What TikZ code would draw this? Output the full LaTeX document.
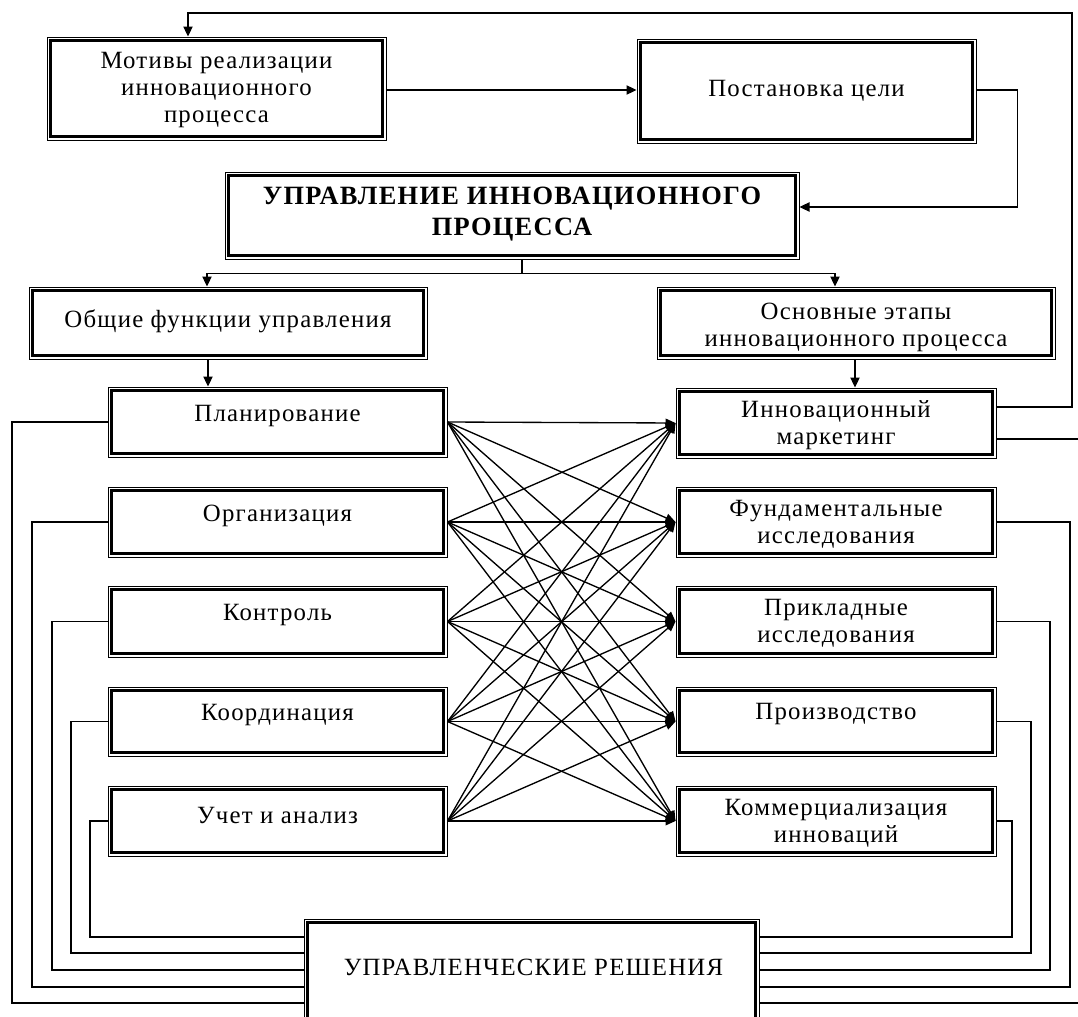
\documentclass[tikz,border=0pt]{standalone}
\usepackage{fontspec}
\setmainfont{Liberation Serif}[LetterSpace=5]
\usetikzlibrary{arrows.meta,fit}
\begin{document}
\begin{tikzpicture}[x=0.75pt,y=-0.75pt,
  box/.style={draw, line width=0.75pt, inner sep=0pt},
  txt/.style={font=\fontsize{18.6}{20.25}\selectfont, align=center, inner sep=0pt},
  ttl/.style={font=\fontsize{19.8}{23.25}\selectfont\bfseries, align=center, inner sep=0pt},
  arr/.style={line width=0.8pt, -{Triangle[length=7.5pt,width=7pt]}},
  carr/.style={line width=1pt, -{Triangle[length=7.5pt,width=6.5pt]}},
  ln/.style={line width=0.8pt}]
\useasboundingbox (0,0) rectangle (1078,1017);
\fill[white] (0,0) rectangle (1078,1017);

% boxes
\node[box, fit={(47,37)(386,140)}] (mot) {};
\node[box, fit={(637,39)(976,143)}] (post) {};
\node[box, fit={(225,172)(799,259)}] (upr) {};
\node[box, fit={(29,287)(427,359)}] (obsh) {};
\node[box, fit={(657,287)(1055,359)}] (osn) {};
\node[box, fit={(108,387)(447,457)}] (plan) {};
\node[box, fit={(108,487)(447,557)}] (org) {};
\node[box, fit={(108,586)(447,657)}] (kontr) {};
\node[box, fit={(108,687)(447,756)}] (koord) {};
\node[box, fit={(108,786)(447,856)}] (uchet) {};
\node[box, fit={(676,388)(996,458)}] (mark) {};
\node[box, fit={(676,487)(996,557)}] (fund) {};
\node[box, fit={(676,586)(996,657)}] (prikl) {};
\node[box, fit={(676,687)(996,756)}] (proizv) {};
\node[box, fit={(676,786)(996,856)}] (komm) {};
\node[box, fit={(304,919)(759,1040)}] (resh) {};

\foreach \n in {mot,post,upr,obsh,osn,plan,org,kontr,koord,uchet,mark,fund,prikl,proizv,komm,resh}
  \draw[line width=1.9pt] ([shift={(4,4)}]\n.north west) rectangle ([shift={(-4,-4)}]\n.south east);

% texts
\node[txt] (motT) at ([shift={(0,2)}]mot.center) {Мотивы реализации\\инновационного\\процесса};
\node[txt] (postT) at (post.center) {Постановка цели};
\node[ttl] (uprT) at ([shift={(0,-1)}]upr.center) {УПРАВЛЕНИЕ ИННОВАЦИОННОГО\\ПРОЦЕССА};
\node[txt] (obshT) at ([shift={(0,-2)}]obsh.center) {Общие функции управления};
\node[txt] (osnT) at ([shift={(0,4)}]osn.center) {Основные этапы\\инновационного процесса};
\node[txt] (planT) at ([shift={(0,-6)}]plan.center) {Планирование};
\node[txt] (orgT) at ([shift={(0,-6)}]org.center) {Организация};
\node[txt] (kontrT) at ([shift={(0,-6)}]kontr.center) {Контроль};
\node[txt] (koordT) at ([shift={(0,-6)}]koord.center) {Координация};
\node[txt] (uchetT) at ([shift={(0,-6)}]uchet.center) {Учет и анализ};
\node[txt] (markT) at ([shift={(0,2)}]mark.center) {Инновационный\\маркетинг};
\node[txt] (fundT) at ([shift={(0,2)}]fund.center) {Фундаментальные\\исследования};
\node[txt] (priklT) at ([shift={(0,2)}]prikl.center) {Прикладные\\исследования};
\node[txt] (proizvT) at ([shift={(0,-7)}]proizv.center) {Производство};
\node[txt] (kommT) at ([shift={(0,2)}]komm.center) {Коммерциализация\\инноваций};
\node[txt] (reshT) at ([shift={(2,49)}]resh.north) {УПРАВЛЕНЧЕСКИЕ РЕШЕНИЯ};

% top connectors
\draw[arr] ([shift={(0,1.5)}]mot.east) -- ([shift={(0,1.5)}]mot.east -| post.west);
\draw[arr] ([shift={(0,-1)}]post.east) -- ++(41,0) |- ([shift={(0,-8.5)}]upr.east);
\coordinate (topR) at (1072,13);
\draw[arr] ([shift={(0,-16)}]mark.east) -| (topR) -| ([shift={(-28.5,0)}]mot.north);
\coordinate (split) at ([shift={(10,14)}]upr.south);
\draw[ln] ([shift={(10,0)}]upr.south) -- (split);
\draw[arr] (split) -| ([shift={(-21,0)}]obsh.north);
\draw[arr] (split) -| ([shift={(-21,0)}]osn.north);
\draw[arr] ([shift={(-20,0)}]obsh.south) -- ([shift={(-20,0)}]obsh.south |- plan.north);
\draw[arr] ([shift={(-1,0)}]osn.south) -- ([shift={(-1,0)}]osn.south |- mark.north);

% cross connections
\foreach \a in {plan,org,kontr,koord,uchet}
  \foreach \b in {mark,fund,prikl,proizv,komm}
    \draw[carr] (\a.east) -- (\b.west);

% feedback lines to decisions
\coordinate (l1) at (12,1003);
\coordinate (l2) at (32,987);
\coordinate (l3) at (52,970);
\coordinate (l4) at (71,953);
\coordinate (l5) at (90,937);
\draw[ln] (plan.west) -| (l1) -- (l1 -| resh.west);
\draw[ln] (org.west) -| (l2) -- (l2 -| resh.west);
\draw[ln] (kontr.west) -| (l3) -- (l3 -| resh.west);
\draw[ln] (koord.west) -| (l4) -- (l4 -| resh.west);
\draw[ln] (uchet.west) -| (l5) -- (l5 -| resh.west);
\coordinate (r1) at (1090,1003);
\coordinate (r2) at (1070,987);
\coordinate (r3) at (1050,970);
\coordinate (r4) at (1031,953);
\coordinate (r5) at (1012,937);
\draw[ln] ([shift={(0,16)}]mark.east) -| (r1) -- (r1 -| resh.east);
\draw[ln] (fund.east) -| (r2) -- (r2 -| resh.east);
\draw[ln] (prikl.east) -| (r3) -- (r3 -| resh.east);
\draw[ln] (proizv.east) -| (r4) -- (r4 -| resh.east);
\draw[ln] (komm.east) -| (r5) -- (r5 -| resh.east);
\end{tikzpicture}
\end{document}
